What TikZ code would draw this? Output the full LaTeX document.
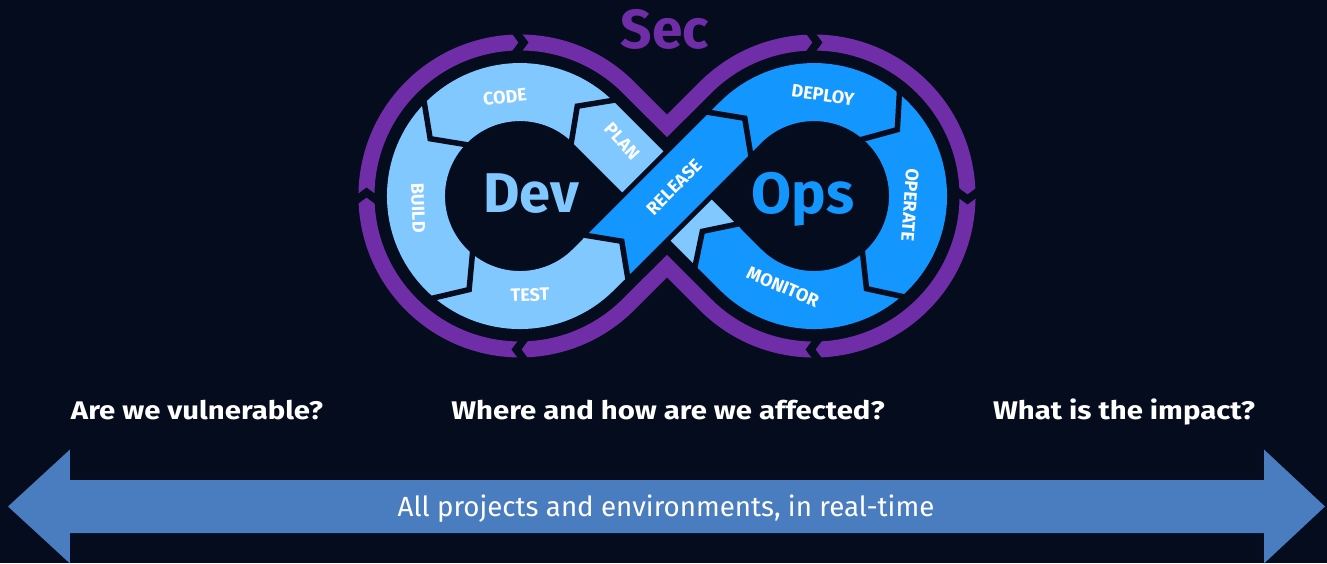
\documentclass[tikz,border=0pt]{standalone}
\usepackage{fontspec}
\setmainfont{Fira Sans}
\definecolor{bg}{HTML}{050C1E}
\definecolor{purp}{HTML}{6F2DA8}
\definecolor{lblue}{HTML}{80C8FF}
\definecolor{dblue}{HTML}{1496FF}
\definecolor{arrowblue}{HTML}{4A7CC0}
\begin{document}
\begin{tikzpicture}[x=1pt,y=1pt,
  seglabel/.style={text=white, font=\fontsize{18}{18}\selectfont\bfseries, inner sep=0pt},
  biglabel/.style={font=\fontsize{56}{56}\selectfont\bfseries, inner sep=0pt, anchor=base},
  question/.style={text=white, font=\fontsize{25.5}{25.5}\selectfont\bfseries, inner sep=0pt, anchor=base, xscale=1.15},
  gapline/.style={draw=bg, line width=5.5, line join=miter},
  notchline/.style={draw=bg, line width=8, line join=miter},
  band/.style={line width=58},
  ring/.style={draw=purp, line width=16, line join=miter}]
\fill[bg] (-667,-367) rectangle (660,196);
\useasboundingbox (-667,-367) rectangle (660,196);

% purple outline
\draw[ring] (-38.5,108.5) -- (0,70.1) -- (38.5,108.5)
  arc[start angle=135, end angle=-135, radius=153.5] -- (0,-70.1) -- (-38.5,-108.5)
  arc[start angle=-45, end angle=-315, radius=153.5] -- cycle;
% notches in purple outline (clockwise arrows)
\foreach \cx/\ang in {-147/90, -147/180, -147/270, 147/90, 147/0, 147/270} {
  \begin{scope}[shift={(\cx,0)}, rotate=\ang]
    \draw[notchline] (142,5) -- (153.5,-3.5) -- (165,5);
  \end{scope}
}

% light blue band (PLAN, CODE, BUILD, TEST)
\draw[band, lblue] (50.2,-50.2) -- (-73.5,73.5) arc[start angle=45, end angle=315, radius=104] -- (-61.5,-61.5);
% gap under the crossing band
\draw[bg, line width=68] (-28,-28) -- (28,28);
% bright blue band (RELEASE, DEPLOY, OPERATE, MONITOR)
\draw[band, dblue] (-61.5,-61.5) -- (73.5,73.5) arc[start angle=135, end angle=-135, radius=104] -- (50.2,-50.2);

% colour change TEST -> RELEASE
\begin{scope}[shift={(-61.5,-61.5)}, rotate=45]
  \fill[lblue] (-3,29) -- (0,29) -- (23,0) -- (0,-29) -- (-3,-29) -- cycle;
  \draw[gapline] (0,32) -- (23,0) -- (0,-32);
\end{scope}
% colour change MONITOR -> PLAN
\begin{scope}[shift={(50.2,-50.2)}, rotate=135]
  \fill[dblue] (-3,29) -- (0,29) -- (21,0) -- (0,-29) -- (-3,-29) -- cycle;
  \draw[gapline] (0,32) -- (21,0) -- (0,-32);
\end{scope}
% RELEASE -> DEPLOY
\begin{scope}[shift={(61.5,61.5)}, rotate=45]
  \draw[gapline] (0,32) -- (23,0) -- (0,-32);
\end{scope}
% left lobe (counter-clockwise flow)
\foreach \ang in {45, 135, 229} {
  \begin{scope}[shift={(-147,0)}, rotate=\ang]
    \draw[gapline] (136,0) -- (104,23) -- (72,0);
  \end{scope}
}
% right lobe (clockwise flow)
\foreach \ang in {51, -48} {
  \begin{scope}[shift={(147,0)}, rotate=\ang]
    \draw[gapline] (136,0) -- (104,-23) -- (72,0);
  \end{scope}
}

% labels
\node[biglabel, text=purp, font=\fontsize{55}{55}\selectfont\bfseries] (sec) at (-2,148) {Sec};
\node[biglabel, text=lblue] (dev) at (-136,-16) {Dev};
\node[biglabel, text=dblue, font=\fontsize{58}{58}\selectfont\bfseries] (ops) at (136,-17) {Ops};
\node[seglabel, rotate=6] (code) at (-162,99) {CODE};
\node[seglabel, rotate=-48] (plan) at (-45,55) {PLAN};
\node[seglabel, rotate=-88] (build) at (-249,-12) {BUILD};
\node[seglabel, rotate=2] (test) at (-137,-99) {TEST};
\node[seglabel, rotate=45] (release) at (7,9) {RELEASE};
\node[seglabel, rotate=-8] (deploy) at (156,101) {DEPLOY};
\node[seglabel, rotate=-94] (operate) at (243,-9) {OPERATE};
\node[seglabel, rotate=-23] (monitor) at (116,-91) {MONITOR};

% questions
\node[question] (q1) at (-470,-223) {Are we vulnerable?};
\node[question] (q2) at (1,-223) {Where and how are we affected?};
\node[question] (q3) at (457,-223) {What is the impact?};

% double arrow
\fill[arrowblue] (-659,-310.5) -- (-597,-253.5) -- (-597,-284) -- (597,-284) -- (597,-253.5)
  -- (658,-310.5) -- (597,-367.5) -- (597,-337) -- (-597,-337) -- (-597,-367.5) -- cycle;
\node[text=white, font=\fontsize{27.7}{27.7}\selectfont, inner sep=0pt] (span) at (-1,-313) {All projects and environments, in real-time};
\end{tikzpicture}
\end{document}
